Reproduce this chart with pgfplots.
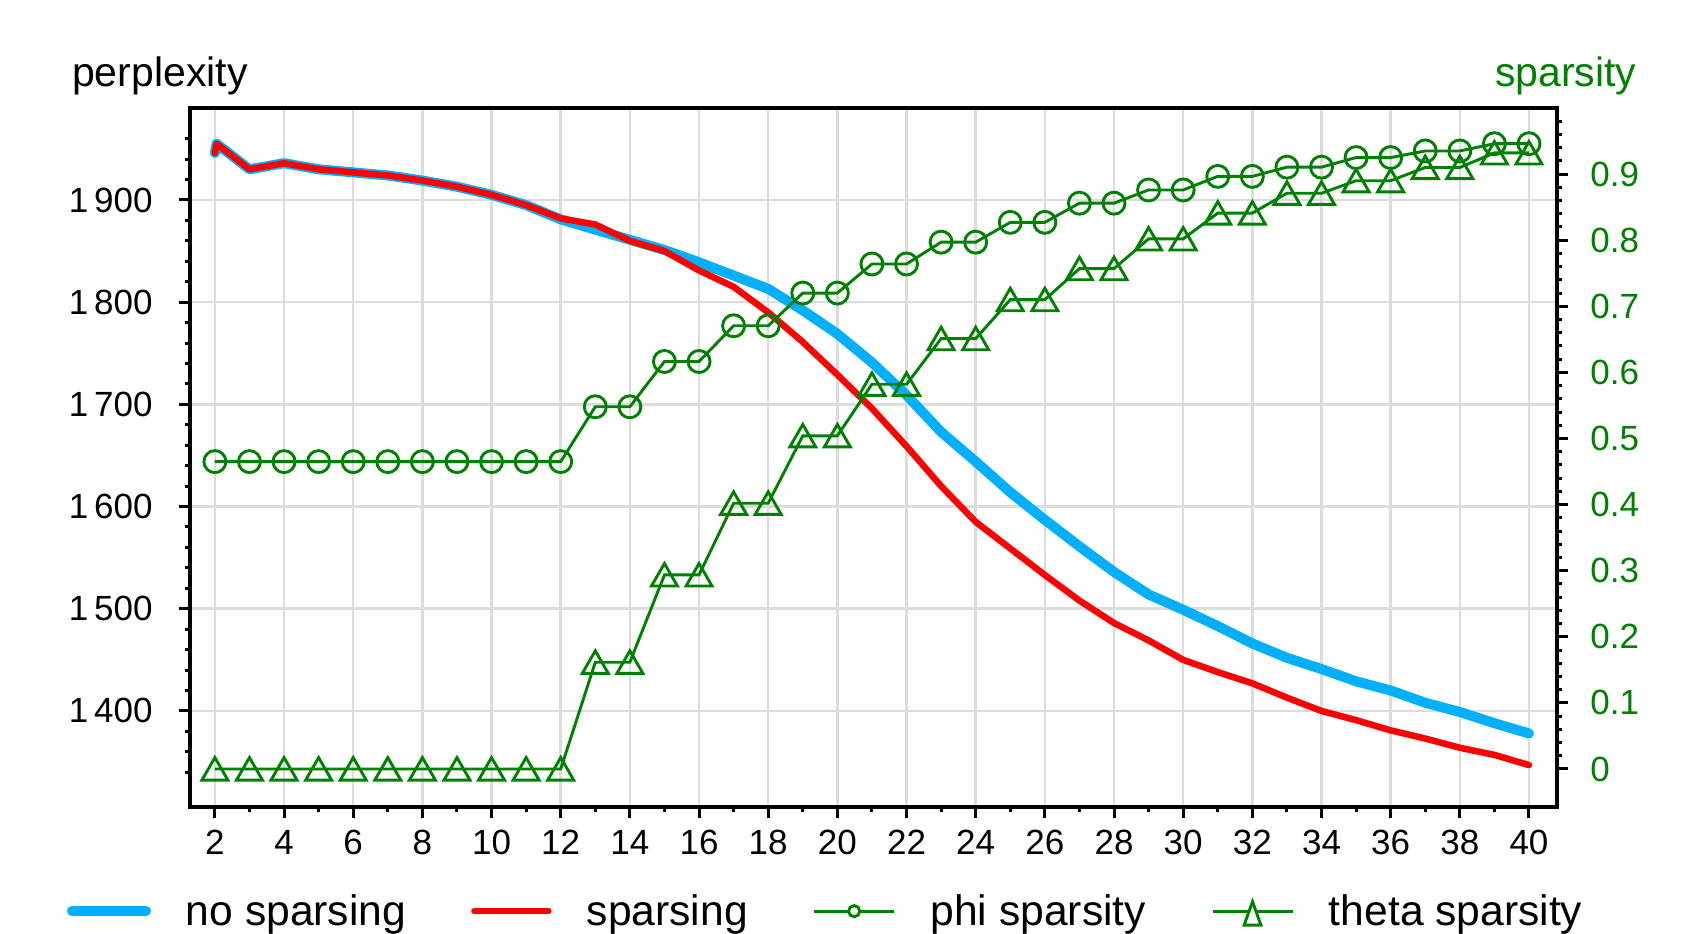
\documentclass[border=0pt]{standalone}
\usepackage{fontspec}
\setmainfont{Liberation Sans}
\usepackage{pgfplots}
\pgfplotsset{compat=1.18}
\definecolor{skyb}{RGB}{0,176,255}
\definecolor{dgreen}{RGB}{0,128,0}
\definecolor{gridc}{RGB}{220,220,220}
\pgfplotsset{
  linelegend/.style={legend image code/.code={\draw[##1] (0pt,0pt) -- (37pt,0pt);}},
  philegend/.style={legend image code/.code={\draw[##1] (0pt,0pt) -- (40pt,0pt); \draw[##1, fill=white] (20pt,0pt) circle[radius=2.8pt];}},
  thetalegend/.style={legend image code/.code={\draw[##1] (0pt,0pt) -- (40pt,0pt); \draw[##1, fill=white] (20pt,4.8pt) -- (15.8pt,-7pt) -- (24.2pt,-7pt) -- cycle;}},
}
\pgfplotstableread{
x noSp sp
2 1946 1946
2.05 1955 1955
3 1930 1930
4 1936 1936
5 1930 1930
6 1927 1927
7 1924 1924
8 1919 1919
9 1913 1913
10 1905 1905
11 1895 1895
12 1881 1882
13 1871 1876
14 1861 1860
15 1851 1850
16 1839 1831
17 1826 1815
18 1813 1790
19 1792 1761
20 1769 1729
21 1741 1696
22 1709 1659
23 1673 1620
24 1644 1585
25 1614 1559
26 1587 1533
27 1561 1508
28 1536 1486
29 1514 1469
30 1499 1450
31 1483 1438
32 1466 1427
33 1452 1413
34 1441 1400
35 1429 1391
36 1420 1381
37 1408 1373
38 1399 1364
39 1388 1357
40 1378 1347
}\perptable
\pgfplotstableread{
x phi theta
2 0.465 0
3 0.465 0
4 0.465 0
5 0.465 0
6 0.465 0
7 0.465 0
8 0.465 0
9 0.465 0
10 0.465 0
11 0.465 0
12 0.465 0
13 0.548 0.1615
14 0.548 0.1615
15 0.6165 0.2936
16 0.6165 0.2936
17 0.6705 0.402
18 0.6705 0.402
19 0.72 0.504
20 0.72 0.504
21 0.764 0.582
22 0.764 0.582
23 0.797 0.651
24 0.797 0.651
25 0.827 0.71
26 0.827 0.71
27 0.856 0.757
28 0.856 0.757
29 0.876 0.802
30 0.876 0.802
31 0.8965 0.841
32 0.8965 0.841
33 0.9105 0.871
34 0.9105 0.871
35 0.925 0.89
36 0.925 0.89
37 0.935 0.91
38 0.935 0.91
39 0.946 0.932
40 0.946 0.932
}\spartable
\begin{document}
\begin{tikzpicture}
\useasboundingbox (-95pt,-63pt) rectangle (754.5pt,403.5pt);
\begin{axis}[
  scale only axis, width=683.5pt, height=349.5pt,
  xmin=1.28, xmax=40.81, ymin=1306, ymax=1990,
  xtick={2,4,...,40}, minor xtick={3,5,...,39},
  ytick={1400,1500,...,1900}, minor ytick={1340,1360,...,1960},
  xtick pos=left, ytick pos=left,
  tick align=outside,
  grid=major, grid style={gridc, line width=1.25pt},
  axis line style={line width=2pt},
  major tick length=5.5pt, minor tick length=2.5pt,
  every tick/.style={black, line width=1.5pt},
  tick label style={font=\fontsize{17.5}{17.5}\selectfont, inner sep=0pt},
  /pgf/number format/assume math mode=true,
  /pgf/number format/1000 sep={\,},
  yticklabel style={anchor=east, xshift=-13pt},
  xticklabel style={anchor=north, yshift=-6pt},
  legend columns=4,
  legend cell align=left,
  legend style={at={(axis description cs:-0.09,-0.149)}, anchor=west,
    draw=none, fill=none, inner sep=0pt, outer sep=0pt,
    font=\fontsize{21.3}{21.3}\selectfont,
    nodes={inner sep=0pt},
    /tikz/every odd column/.append style={column sep=17.5pt},
    /tikz/every even column/.append style={column sep=32.5pt}},
]
\addplot[skyb, line width=5pt, line cap=round, line join=round, linelegend]
  table[x=x, y=noSp] {\perptable};
\addlegendentry{no sparsing}
\addplot[red, line width=3.25pt, line cap=round, line join=round, linelegend]
  table[x=x, y=sp] {\perptable};
\addlegendentry{sparsing}
\addlegendimage{dgreen, line width=1.45pt, philegend}
\addlegendentry{phi sparsity}
\addlegendimage{dgreen, line width=1.45pt, thetalegend}
\addlegendentry{theta sparsity}
\end{axis}
\begin{axis}[
  scale only axis, width=683.5pt, height=349.5pt,
  xmin=1.28, xmax=40.81, ymin=-0.0575, ymax=1.0,
  axis x line=none, axis y line*=right,
  ytick={0,0.1,0.2,0.3,0.4,0.5,0.6,0.7,0.8,0.9},
  minor ytick={0.02,0.04,...,0.97},
  tick align=outside,
  axis line style={line width=2pt},
  major tick length=5.5pt, minor tick length=2.5pt,
  every tick/.style={black, line width=1.5pt},
  tick label style={font=\fontsize{17.5}{17.5}\selectfont, inner sep=0pt},
  /pgf/number format/assume math mode=true,
  yticklabel style={anchor=west, xshift=11pt, text=dgreen},
]
\addplot[dgreen, line width=1.45pt, mark=o, mark size=5.5pt,
  mark options={solid, fill=white}]
  table[x=x, y=phi] {\spartable};
\addplot[dgreen, line width=1.45pt, mark=triangle, mark size=7.5pt,
  mark options={solid, fill=white, yshift=-1.8pt}]
  table[x=x, y=theta] {\spartable};
\end{axis}
\node[anchor=base west, inner sep=0pt, font=\fontsize{20.5}{20.5}\selectfont] at (-59.15pt,360.15pt) {perplexity};
\node[anchor=base east, inner sep=0pt, text=dgreen, font=\fontsize{20.5}{20.5}\selectfont] at (723.35pt,360.15pt) {sparsity};
\end{tikzpicture}
\end{document}
